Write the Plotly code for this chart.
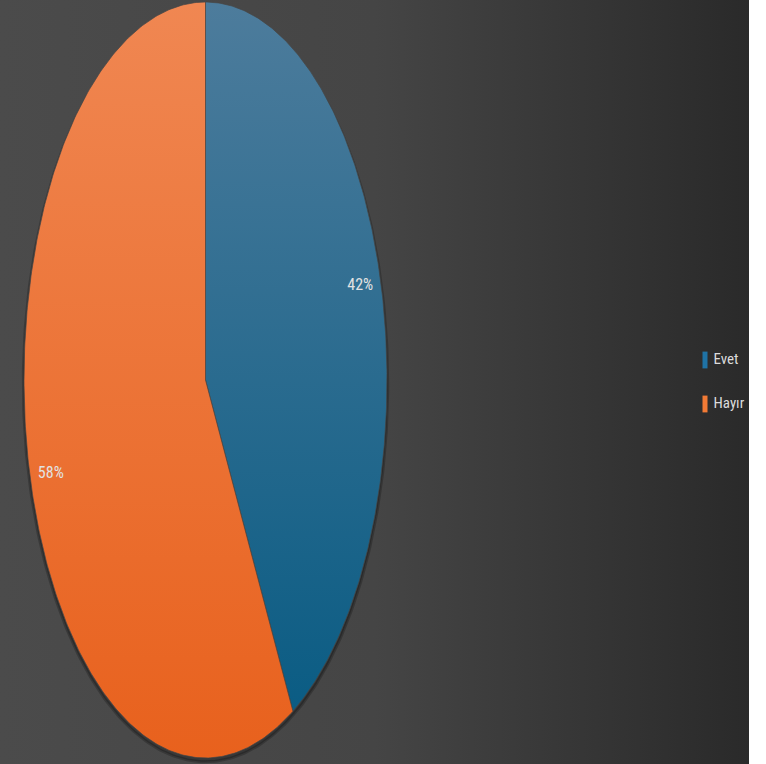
import numpy as np
import plotly.graph_objects as go

# ---- data ----
categories = ["Evet", "Hayır"]
values = [42, 58]
label_texts = ["42%", "58%"]

# ---- styles ----
slice_top = ["#4d7c9c", "#f08752"]
slice_bottom = ["#065a82", "#e8611d"]
legend_colors = ["#1f73a6", "#f27a35"]
FONT = "Liberation Sans Narrow, Arial Narrow, Roboto Condensed, Liberation Sans, sans-serif"

W, H = 766, 764
plot_w = 749
cx, cy, rx, ry = 205.5, 380, 181.5, 378  # pixel geometry of the ellipse

# axis ranges so that the unit circle maps onto the ellipse
xr = [-cx / rx, (plot_w - cx) / rx]
yr = [(cy - H) / ry, cy / ry]

fig = go.Figure()

# background gradient
fig.add_trace(go.Scatter(
    x=[xr[0], xr[1], xr[1], xr[0], xr[0]],
    y=[yr[0], yr[0], yr[1], yr[1], yr[0]],
    mode="lines", line=dict(width=0), fill="toself",
    fillgradient=dict(type="horizontal", start=xr[0], stop=xr[1],
                      colorscale=[[0, "#4b4b4b"], [0.5, "#454545"], [1, "#2a2a2a"]]),
    hoverinfo="skip", showlegend=False))

# soft shadow
t = np.linspace(0, 2 * np.pi, 400)
fig.add_trace(go.Scatter(
    x=np.sin(t) * 1.004, y=np.cos(t) * 1.0 - 0.01,
    mode="lines", line=dict(width=3, color="rgba(0,0,0,0.22)"),
    fill="toself", fillcolor="rgba(0,0,0,0.22)",
    hoverinfo="skip", showlegend=False))

total = sum(values)
start = 0.0
for i, (cat, v) in enumerate(zip(categories, values)):
    a0 = start / total * 2 * np.pi
    a1 = (start + v) / total * 2 * np.pi
    ang = np.linspace(a0, a1, 300)
    xs = np.concatenate([[0], np.sin(ang), [0]])
    ys = np.concatenate([[0], np.cos(ang), [0]])
    fig.add_trace(go.Scatter(
        x=xs, y=ys, mode="lines",
        line=dict(width=1, color="rgba(70,70,70,0.7)"),
        fill="toself",
        fillgradient=dict(type="vertical", start=-1, stop=1,
                          colorscale=[[0, slice_bottom[i]], [1, slice_top[i]]]),
        hoverinfo="skip", showlegend=False))
    mid = (a0 + a1) / 2
    fig.add_trace(go.Scatter(
        x=[0.88 * np.sin(mid)], y=[1.0 * np.cos(mid)],
        mode="text", text=[label_texts[i]],
        textfont=dict(family=FONT, size=16, color="#e2e2e2"),
        hoverinfo="skip", showlegend=False))
    start += v

# legend (drawn as markers + text to the right of the pie)
leg_px_x = 705
leg_px_y = [360, 404]
fig.add_trace(go.Scatter(
    x=[(leg_px_x - cx) / rx] * len(categories),
    y=[(cy - py) / ry for py in leg_px_y],
    mode="markers+text", text=categories, textposition="middle right",
    textfont=dict(family=FONT, size=15, color="#dcdcdc"),
    marker=dict(symbol="line-ns", size=12,
                line=dict(width=5, color=legend_colors)),
    hoverinfo="skip", showlegend=False))

fig.update_layout(
    width=W, height=H,
    margin=dict(l=0, r=0, t=0, b=0),
    paper_bgcolor="white", plot_bgcolor="#3a3a3a",
    xaxis=dict(range=xr, domain=[0, plot_w / W], visible=False, fixedrange=True),
    yaxis=dict(range=yr, visible=False, fixedrange=True),
    showlegend=False,
)

fig.write_html("out.html", config={"displayModeBar": False},
               post_script="document.body.style.margin='0';")
